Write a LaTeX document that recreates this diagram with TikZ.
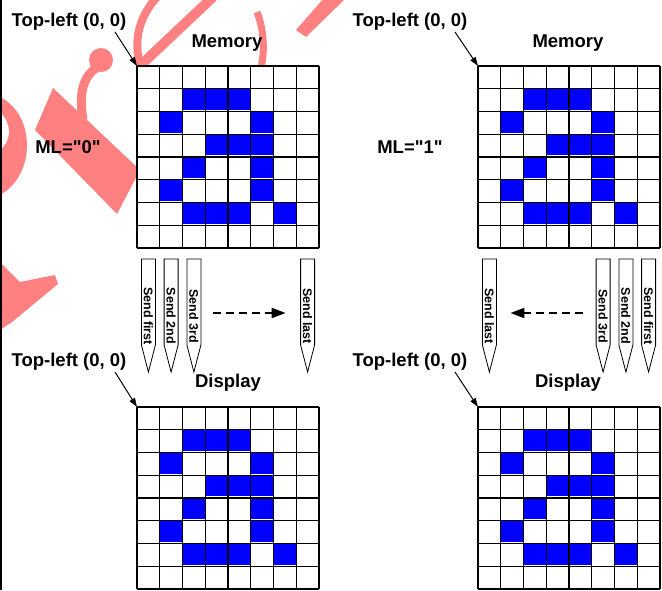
\documentclass[tikz,border=0pt]{standalone}
\usepackage{fontspec}
\setmainfont{Liberation Sans}[Ligatures=TeXOff]
\usetikzlibrary{arrows.meta}
\definecolor{wmark}{RGB}{255,128,128}
\definecolor{pix}{RGB}{0,0,255}

\begin{document}
\begin{tikzpicture}[
  x=1pt, y=-1pt,
  lbl/.style={font=\fontsize{18.5}{20}\selectfont\bfseries, inner sep=0pt},
  sendtxt/.style={font=\fontsize{12.5}{14}\selectfont\bfseries, rotate=-90, inner sep=0pt},
  pencil/.style={draw, fill=white, line width=0.8pt},
  gridline/.style={line width=1.1pt},
  ptr/.style={-{Triangle[length=9pt,width=6pt]}, line width=1pt},
  dashflow/.style={-{Triangle[length=14pt,width=10pt]}, line width=2pt, dash pattern=on 8pt off 5pt},
  wm/.style={wmark}
]
\useasboundingbox (0,0) rectangle (662,590);

% watermark behind everything
\begin{scope}
  \clip (0,0) rectangle (662,590);
  \draw[wm, line width=8pt] (141,68) .. controls (132,40) and (140,15) .. (158,-4);
  \draw[wm, line width=10pt] (143,63) -- (213,-3);
  \draw[wm, line width=7pt] (257,12) .. controls (264,30) and (265,50) .. (261,68);
  \fill[wm] (296,30) -- (306,37) -- (346,-2) -- (324,-2) -- cycle;
  \fill[wm] (101,60) circle [radius=12];
  \draw[wm, line width=9pt] (96,68) .. controls (82,78) and (79,95) .. (83,120);
  \fill[wm] (35,130) -- (53,88) -- (140,170) -- (117,214) -- cycle;
  \fill[wm] (0,97) .. controls (36,115) and (36,175) .. (0,195) -- cycle;
  \fill[white] (0,112) .. controls (12,124) and (12,140) .. (0,150) -- cycle;
  \fill[wm] (0,262) -- (20,282) -- (55,275) -- (58,284) -- (12,322) -- (0,330) -- cycle;
\end{scope}

\draw[line width=2pt] (1,0) -- (1,590);

% the four 8x8 pixel grids
\foreach \gx/\gy/\nm in {137/66/memL, 478/66/memR, 137/407/dispL, 478/407/dispR} {
  \coordinate (\nm) at (\gx,\gy);
  \fill[white] (\nm) rectangle ++(182,182);
  \foreach \i/\j in {2/1,3/1,4/1,1/2,5/2,3/3,4/3,5/3,2/4,5/4,1/5,5/5,2/6,3/6,4/6,6/6}
    \fill[pix] (\gx+\i*22.75,\gy+\j*22.75) rectangle ++(22.75,21);
  \foreach \k in {0,...,8} {
    \draw[gridline] (\gx+\k*22.75,\gy) -- ++(0,182);
    \draw[gridline] (\gx,\gy+\k*22.75) -- ++(182,0);
  }
}

% labels
\node[lbl] (tlA) at (69,22) {Top-left (0, 0)};
\node[lbl] (tlB) at (410,22) {Top-left (0, 0)};
\node[lbl] (tlC) at (69,362) {Top-left (0, 0)};
\node[lbl] (tlD) at (410,362) {Top-left (0, 0)};
\node[lbl] (memA) at (227,43) {Memory};
\node[lbl] (memB) at (568,43) {Memory};
\node[lbl] (dispA) at (228,383) {Display};
\node[lbl] (dispB) at (568,383) {Display};
\node[lbl] (mlA) at (68,147) {ML="0"};
\node[lbl] (mlB) at (410,147) {ML="1"};

\draw[ptr] ([shift={(46,10)}]tlA.center) -- (memL);
\draw[ptr] ([shift={(45,10)}]tlB.center) -- (memR);
\draw[ptr] ([shift={(46,10)}]tlC.center) -- (dispL);
\draw[ptr] ([shift={(45,10)}]tlD.center) -- (dispR);

% send order markers
\foreach \c/\t/\n in {148.4/Send first/sA, 171.1/Send 2nd/sB, 193.9/Send 3rd/sC, 307.6/Send last/sD,
                      489.4/Send last/sE, 603.1/Send 3rd/sF, 625.9/Send 2nd/sG, 648.6/Send first/sH} {
  \draw[pencil] (\c-7,259) -- (\c+7,259) -- (\c+7,345) -- (\c,372) -- (\c-7,345) -- cycle;
  \node[sendtxt] (\n) at (\c,316) {\t};
}

\draw[dashflow] ([shift={(19,-3)}]sC.center) -- ([shift={(-22,-3)}]sD.center);
\draw[dashflow] ([shift={(-20,-3)}]sF.center) -- ([shift={(21,-3)}]sE.center);
\end{tikzpicture}
\end{document}
